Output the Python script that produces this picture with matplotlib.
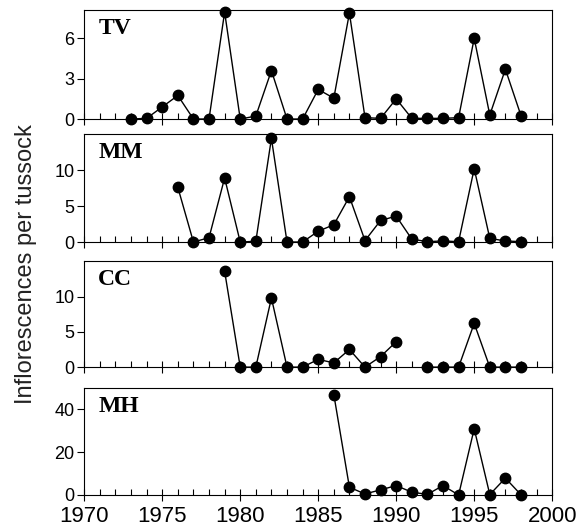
import numpy as np
import matplotlib
matplotlib.use("Agg")
import matplotlib.pyplot as plt
from matplotlib.ticker import MultipleLocator

nan = np.nan

years = list(range(1973, 1999))

tv = [0, 0.05, 0.9, 1.75, 0, 0, 7.95, 0, 0.22, 3.6, 0, 0, 2.2, 1.55,
      7.88, 0.1, 0.05, 1.5, 0.05, 0.05, 0.05, 0.1, 6.0, 0.3, 3.7, 0.25]

mm = [nan, nan, nan, 7.6, 0, 0.6, 8.9, 0, 0.1, 14.4, 0, 0, 1.5, 2.4,
      6.3, 0.2, 3.0, 3.6, 0.4, 0.05, 0.15, 0.05, 10.2, 0.5, 0.15, 0.05]

cc = [nan, nan, nan, nan, nan, nan, 13.6, 0, 0, 9.8, 0, 0, 1.1, 0.6,
      2.5, 0, 1.5, 3.6, nan, 0, 0, 0, 6.2, 0, 0, 0]

mh = [nan] * 13 + [47, 3.6, 0.5, 2.4, 4.4, 1.3, 0.3, 4.4, 0, 31, 0.2, 7.9, 0.1]

sites = ["TV", "MM", "CC", "MH"]
series = [tv, mm, cc, mh]
y_max = [8.1, 15, 15, 50]
y_ticks = [[0, 3, 6], [0, 5, 10], [0, 5, 10], [0, 20, 40]]

# axes boxes in figure fraction: left, bottom, width, height
boxes = [
    [0.146, 0.775, 0.811, 0.206],
    [0.146, 0.5425, 0.811, 0.204],
    [0.146, 0.306, 0.811, 0.200],
    [0.146, 0.0643, 0.811, 0.202],
]

fig = plt.figure(figsize=(5.77, 5.29), dpi=100)

for i in range(4):
    ax = fig.add_axes(boxes[i])
    ax.plot(years, series[i], color="black", linewidth=1.0,
            marker="o", markersize=7.5, clip_on=False, zorder=3)

    ax.set_xlim(1970, 2000)
    ax.set_ylim(0, y_max[i])
    ax.set_yticks(y_ticks[i])
    ax.xaxis.set_major_locator(MultipleLocator(5))
    ax.xaxis.set_minor_locator(MultipleLocator(1))

    ax.tick_params(axis="y", direction="out", length=5, width=0.8,
                   labelsize=13, pad=2)
    ax.tick_params(axis="x", which="major", direction="inout", length=8,
                   width=0.8, top=False, labelsize=16, pad=4)
    ax.tick_params(axis="x", which="minor", direction="in", length=4,
                   width=0.8)
    for lab in ax.get_xticklabels() + ax.get_yticklabels():
        lab.set_fontfamily("Liberation Sans")

    if i < 3:
        ax.tick_params(axis="x", labelbottom=False)

    for sp in ax.spines.values():
        sp.set_linewidth(0.8)

    ax.text(0.03, 0.93, sites[i], transform=ax.transAxes, ha="left",
            va="top", fontsize=17, fontweight="bold",
            fontfamily="Liberation Serif")

fig.text(0.045, 0.5, "Inflorescences per tussock", rotation=90,
         ha="center", va="center", fontsize=17,
         fontfamily="Liberation Sans", color="#222222")

fig.savefig("out.png", dpi=100)
